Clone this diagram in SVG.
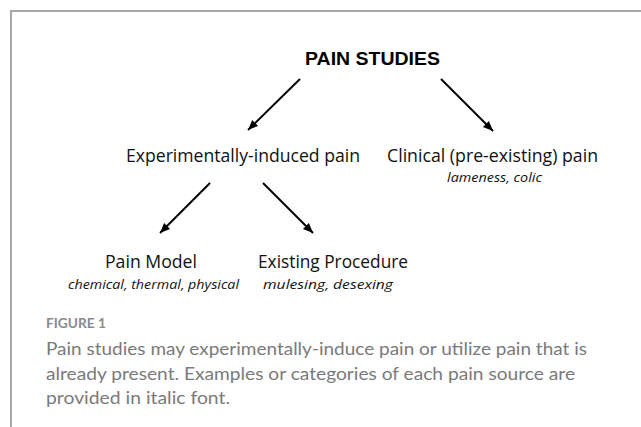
<svg xmlns="http://www.w3.org/2000/svg" width="641" height="427" viewBox="0 0 641 427">
<defs>
<marker id="ah" markerUnits="userSpaceOnUse" markerWidth="10" markerHeight="10" refX="10" refY="5" orient="auto">
<path d="M0,0.8 L10,5 L0,9.2 Z" fill="#000"/>
</marker>
<style>
.t{font-family:"Open Sans","Liberation Sans",sans-serif;font-size:18px;fill:#111;}
.b{font-family:"Liberation Sans","Open Sans",sans-serif;font-size:18px;font-weight:bold;fill:#000;}
.i{font-family:"Open Sans","Liberation Sans",sans-serif;font-size:13.5px;font-style:italic;fill:#111;}
.fig{font-family:"Lato","Open Sans",sans-serif;font-size:13px;font-weight:bold;fill:#8a8a8a;}
.cap{font-family:"Lato","Open Sans",sans-serif;font-size:18px;fill:#7a7a7a;}
.arr{stroke:#000;stroke-width:2;fill:none;marker-end:url(#ah);}
</style>
</defs>
<rect width="641" height="427" fill="#fff"/>
<g id="frame" stroke="#a8a8a8" stroke-width="2" fill="none">
<path d="M11,427 L11,11 L641,11"/>
</g>
<g id="connectors">
<line class="arr" x1="300" y1="79" x2="248" y2="130"/>
<line class="arr" x1="441" y1="79" x2="493" y2="131"/>
<line class="arr" x1="210" y1="183" x2="160" y2="233"/>
<line class="arr" x1="263" y1="183" x2="313" y2="233"/>
</g>
<g id="pain-studies">
<text class="b" x="305" y="65" textLength="135" lengthAdjust="spacingAndGlyphs">PAIN STUDIES</text>
</g>
<g id="experimental">
<text class="t" x="126" y="162" textLength="234" lengthAdjust="spacingAndGlyphs">Experimentally-induced pain</text>
</g>
<g id="clinical">
<text class="t" x="387" y="162" textLength="211" lengthAdjust="spacingAndGlyphs">Clinical (pre-existing) pain</text>
<text class="i" x="447" y="182" textLength="95" lengthAdjust="spacingAndGlyphs">lameness, colic</text>
</g>
<g id="pain-model">
<text class="t" x="105" y="268" textLength="92" lengthAdjust="spacingAndGlyphs">Pain Model</text>
<text class="i" x="68" y="289" textLength="171" lengthAdjust="spacingAndGlyphs">chemical, thermal, physical</text>
</g>
<g id="existing-procedure">
<text class="t" x="258" y="268" textLength="150" lengthAdjust="spacingAndGlyphs">Existing Procedure</text>
<text class="i" x="263" y="289" textLength="130" lengthAdjust="spacingAndGlyphs">mulesing, desexing</text>
</g>
<g id="caption">
<text class="fig" x="46" y="328" textLength="60" lengthAdjust="spacingAndGlyphs">FIGURE 1</text>
<text class="cap" x="46" y="355" textLength="541" lengthAdjust="spacingAndGlyphs">Pain studies may experimentally-induce pain or utilize pain that is</text>
<text class="cap" x="46" y="380" textLength="529" lengthAdjust="spacingAndGlyphs">already present. Examples or categories of each pain source are</text>
<text class="cap" x="46" y="404" textLength="184" lengthAdjust="spacingAndGlyphs">provided in italic font.</text>
</g>
</svg>
